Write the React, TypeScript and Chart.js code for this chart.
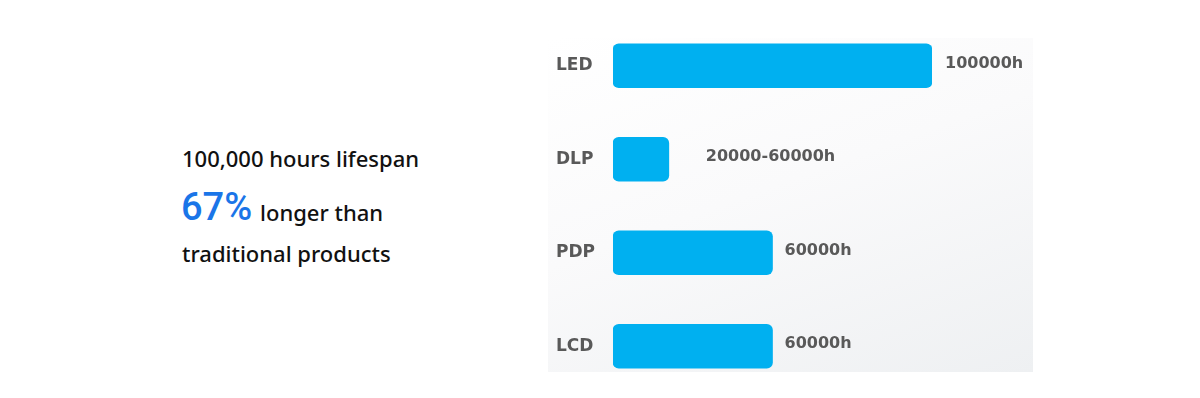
import React, { useEffect, useRef } from "react";
import { Chart, registerables } from "chart.js";

Chart.register(...registerables);

const categories = ["LED", "DLP", "PDP", "LCD"];
const lifespanHours = [100000, 34000, 60000, 60000];
const valueLabels = ["100000h", "20000-60000h", "60000h", "60000h"];
const axisMin = 20000;
const axisMax = 100000;

const labelOffsets = [13, 37, 12, 12];

const valueLabelPlugin = {
  id: "valueLabels",
  afterDatasetsDraw(chart: any) {
    const ctx = chart.ctx;
    const meta = chart.getDatasetMeta(0);
    ctx.save();
    ctx.font = "bold 16px 'DejaVu Sans'";
    ctx.fillStyle = "#595959";
    ctx.textAlign = "left";
    ctx.textBaseline = "middle";
    meta.data.forEach((el: any, i: number) => {
      ctx.fillText(valueLabels[i], el.x + labelOffsets[i], el.y - 2);
    });
    ctx.restore();
  },
};

function BarChart() {
  const ref = useRef<HTMLCanvasElement | null>(null);
  useEffect(() => {
    if (!ref.current) return;
    const chart = new Chart(ref.current, {
      type: "bar",
      data: {
        labels: categories,
        datasets: [
          {
            data: lifespanHours,
            base: axisMin,
            backgroundColor: "#00b0f0",
            borderRadius: 6,
            borderSkipped: false,
            barThickness: 44,
          },
        ],
      },
      options: {
        indexAxis: "y",
        animation: false,
        responsive: false,
        layout: { padding: { left: 8, right: 106, top: 19, bottom: 5 } },
        plugins: {
          legend: { display: false },
          tooltip: { enabled: false },
        },
        scales: {
          x: {
            display: false,
            beginAtZero: false,
            min: axisMin,
            max: axisMax,
          },
          y: {
            grid: { display: false, drawTicks: false },
            border: { display: false },
            afterFit: (scale: any) => {
              scale.width = 57;
              scale.paddingTop = 0;
              scale.paddingBottom = 0;
            },
            ticks: {
              crossAlign: "far",
              padding: 0,
              color: "#595959",
              font: { family: "'DejaVu Sans'", weight: "bold", size: 17 },
            },
          },
        },
      },
      plugins: [valueLabelPlugin],
    });
    return () => chart.destroy();
  }, []);
  return <canvas ref={ref} width={490} height={398} />;
}

export default function App() {
  useEffect(() => {
    document.body.style.margin = "0";
  }, []);
  const textStyle: React.CSSProperties = {
    position: "absolute",
    fontFamily: "'Noto Sans', sans-serif",
    fontWeight: 500,
    fontSize: 22,
    color: "#111",
    whiteSpace: "nowrap",
    lineHeight: "30px",
  };
  return (
    <div style={{ position: "relative", width: 1200, height: 398, background: "#fff", overflow: "hidden" }}>
      <div style={{ ...textStyle, left: 182, top: 143 }}>100,000 hours lifespan</div>
      <div
        style={{
          position: "absolute",
          left: 181,
          top: 185,
          fontFamily: "Roboto, sans-serif",
          fontSize: 38,
          fontWeight: 500,
          lineHeight: "45px",
          color: "#1a75e8",
          whiteSpace: "nowrap",
        }}
      >
        67%
      </div>
      <div style={{ ...textStyle, left: 260, top: 197 }}>longer than</div>
      <div style={{ ...textStyle, left: 182, top: 238 }}>traditional products</div>
      <div
        style={{
          position: "absolute",
          left: 548,
          top: 38,
          width: 485,
          height: 334,
          background: "linear-gradient(160deg, #ffffff 0%, #fafafb 45%, #eef0f2 100%)",
        }}
      />
      <div style={{ position: "absolute", left: 548, top: 0, width: 490, height: 398 }}>
        <BarChart />
      </div>
    </div>
  );
}
